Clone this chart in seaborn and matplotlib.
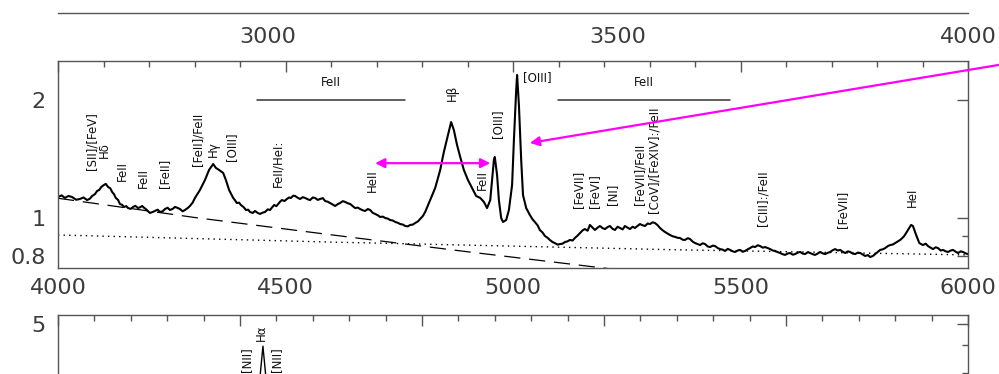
import matplotlib
matplotlib.use("Agg")
import matplotlib.pyplot as plt
import matplotlib.ticker as mticker
import seaborn as sns

# spectrum in the middle panel (wavelength in A, normalised flux)
wl = [4000, 4008, 4015, 4023, 4031, 4040, 4048, 4056, 4064, 4070,
      4075, 4081, 4086, 4091, 4095, 4101, 4105, 4110, 4115, 4119,
      4123, 4127, 4132, 4136, 4141, 4145, 4150, 4154, 4160, 4165,
      4170, 4176, 4181, 4185, 4189, 4193, 4198, 4202, 4208, 4213,
      4219, 4224, 4230, 4235, 4241, 4246, 4252, 4257, 4263, 4268,
      4274, 4279, 4285, 4290, 4296, 4301, 4312, 4323, 4332, 4341,
      4347, 4354, 4363, 4369, 4376, 4385, 4389, 4393, 4398, 4402,
      4408, 4413, 4418, 4422, 4428, 4433, 4439, 4444, 4450, 4455,
      4461, 4466, 4471, 4475, 4480, 4484, 4488, 4492, 4498, 4503,
      4508, 4512, 4517, 4521, 4527, 4532, 4538, 4543, 4549, 4554,
      4560, 4565, 4571, 4576, 4582, 4587, 4593, 4598, 4604, 4609,
      4615, 4620, 4626, 4631, 4637, 4642, 4648, 4653, 4659, 4664,
      4670, 4675, 4681, 4686, 4692, 4697, 4703, 4708, 4714, 4719,
      4725, 4730, 4736, 4741, 4747, 4752, 4758, 4763, 4769, 4774,
      4780, 4785, 4791, 4796, 4802, 4807, 4818, 4829, 4840, 4848,
      4857, 4864, 4870, 4877, 4884, 4892, 4901, 4910, 4919, 4928,
      4936, 4943, 4950, 4954, 4958, 4960, 4965, 4969, 4974, 4978,
      4985, 4991, 4998, 5002, 5007, 5009, 5013, 5018, 5022, 5029,
      5037, 5043, 5048, 5054, 5059, 5065, 5070, 5076, 5081, 5087,
      5092, 5098, 5103, 5109, 5114, 5120, 5125, 5131, 5136, 5142,
      5147, 5153, 5158, 5164, 5169, 5175, 5180, 5186, 5191, 5197,
      5202, 5208, 5213, 5219, 5224, 5230, 5235, 5241, 5246, 5252,
      5257, 5263, 5268, 5274, 5279, 5285, 5290, 5296, 5301, 5307,
      5312, 5318, 5323, 5329, 5334, 5340, 5345, 5351, 5356, 5362,
      5367, 5373, 5378, 5384, 5389, 5395, 5400, 5406, 5411, 5417,
      5422, 5428, 5433, 5439, 5444, 5450, 5455, 5461, 5466, 5472,
      5477, 5483, 5488, 5494, 5499, 5505, 5510, 5516, 5521, 5527,
      5532, 5538, 5543, 5549, 5554, 5560, 5565, 5571, 5576, 5582,
      5587, 5593, 5598, 5604, 5609, 5615, 5620, 5626, 5631, 5637,
      5642, 5648, 5653, 5659, 5664, 5670, 5675, 5681, 5686, 5692,
      5697, 5703, 5708, 5714, 5719, 5725, 5730, 5736, 5741, 5747,
      5752, 5758, 5763, 5769, 5774, 5780, 5785, 5791, 5796, 5802,
      5807, 5813, 5818, 5824, 5829, 5835, 5840, 5846, 5851, 5856,
      5860, 5868, 5875, 5879, 5886, 5893, 5897, 5901, 5907, 5912,
      5918, 5923, 5929, 5934, 5940, 5945, 5951, 5956, 5962, 5967,
      5973, 5978, 5984, 5989, 5995, 6000]
flux = [1.131, 1.142, 1.125, 1.138, 1.131, 1.113, 1.118, 1.128, 1.111, 1.120,
        1.138, 1.150, 1.172, 1.180, 1.200, 1.214, 1.222, 1.200, 1.190, 1.165,
        1.150, 1.125, 1.112, 1.086, 1.080, 1.067, 1.072, 1.060, 1.055, 1.067,
        1.074, 1.060, 1.066, 1.073, 1.062, 1.054, 1.040, 1.030, 1.036, 1.042,
        1.050, 1.036, 1.040, 1.054, 1.062, 1.048, 1.055, 1.067, 1.061, 1.054,
        1.040, 1.048, 1.060, 1.073, 1.095, 1.125, 1.179, 1.250, 1.326, 1.373,
        1.342, 1.326, 1.303, 1.250, 1.179, 1.125, 1.110, 1.092, 1.094, 1.079,
        1.066, 1.048, 1.050, 1.036, 1.030, 1.042, 1.030, 1.024, 1.032, 1.036,
        1.052, 1.048, 1.066, 1.079, 1.072, 1.086, 1.100, 1.111, 1.105, 1.118,
        1.128, 1.125, 1.140, 1.138, 1.126, 1.118, 1.130, 1.125, 1.116, 1.111,
        1.128, 1.125, 1.112, 1.118, 1.124, 1.105, 1.100, 1.092, 1.082, 1.073,
        1.085, 1.092, 1.104, 1.099, 1.090, 1.086, 1.072, 1.060, 1.063, 1.054,
        1.046, 1.042, 1.054, 1.048, 1.030, 1.024, 1.016, 1.006, 1.008, 1.000,
        0.996, 0.988, 0.985, 0.977, 0.972, 0.965, 0.962, 0.954, 0.952, 0.960,
        0.962, 0.971, 0.980, 0.994, 1.012, 1.036, 1.111, 1.193, 1.326, 1.473,
        1.628, 1.757, 1.677, 1.536, 1.431, 1.326, 1.250, 1.193, 1.138, 1.125,
        1.099, 1.060, 1.111, 1.250, 1.406, 1.431, 1.287, 1.111, 1.000, 0.977,
        0.988, 1.048, 1.214, 1.581, 2.120, 2.317, 1.942, 1.406, 1.144, 1.060,
        1.018, 0.992, 0.977, 0.958, 0.932, 0.918, 0.900, 0.890, 0.879, 0.868,
        0.863, 0.855, 0.858, 0.860, 0.868, 0.872, 0.879, 0.876, 0.889, 0.902,
        0.915, 0.930, 0.937, 0.928, 0.960, 0.945, 0.932, 0.945, 0.954, 0.942,
        0.937, 0.948, 0.954, 0.938, 0.932, 0.950, 0.943, 0.935, 0.954, 0.945,
        0.937, 0.950, 0.943, 0.955, 0.965, 0.958, 0.954, 0.968, 0.965, 0.975,
        0.971, 0.958, 0.943, 0.930, 0.921, 0.912, 0.905, 0.898, 0.895, 0.890,
        0.889, 0.880, 0.879, 0.888, 0.884, 0.870, 0.863, 0.858, 0.853, 0.862,
        0.858, 0.846, 0.843, 0.850, 0.848, 0.838, 0.833, 0.830, 0.824, 0.834,
        0.829, 0.822, 0.819, 0.826, 0.829, 0.820, 0.824, 0.832, 0.838, 0.846,
        0.843, 0.852, 0.848, 0.840, 0.843, 0.838, 0.833, 0.826, 0.824, 0.818,
        0.814, 0.808, 0.805, 0.812, 0.814, 0.806, 0.809, 0.816, 0.819, 0.811,
        0.809, 0.818, 0.814, 0.808, 0.805, 0.812, 0.819, 0.812, 0.809, 0.815,
        0.819, 0.828, 0.833, 0.826, 0.829, 0.820, 0.814, 0.822, 0.819, 0.811,
        0.809, 0.816, 0.814, 0.806, 0.800, 0.804, 0.795, 0.800, 0.809, 0.820,
        0.829, 0.832, 0.838, 0.848, 0.853, 0.856, 0.863, 0.872, 0.879, 0.890,
        0.900, 0.932, 0.960, 0.954, 0.905, 0.863, 0.858, 0.853, 0.860, 0.848,
        0.840, 0.833, 0.842, 0.838, 0.826, 0.829, 0.822, 0.819, 0.826, 0.829,
        0.820, 0.814, 0.822, 0.819, 0.812, 0.809]

# power-law continuum (dashed) and second component (dotted)
pl_wl = [4000, 4300, 4600, 4900, 5200, 5300]
pl_flux = [1.123, 1.003, 0.906, 0.820, 0.745, 0.723]
dot_wl = [4000, 4600, 5350, 6000]
dot_flux = [0.905, 0.868, 0.830, 0.805]

# bottom panel: only the top of H-alpha is visible
ha_wl = [6000, 6500, 6545, 6556, 6563, 6570, 6581, 6650, 8500]
ha_flux = [0.9, 1.0, 1.5, 3.0, 3.97, 3.0, 1.5, 1.0, 0.8]

# line ids: text, wavelength, flux at the bottom of the text
line_ids = [
    ("[SII]/[FeV]", 4075, 1.326), ("Hδ", 4101, 1.422), ("FeII", 4141, 1.243),
    ("FeII", 4187, 1.193), ("[FeII]", 4235, 1.193), ("[FeII]/FeII", 4308, 1.357),
    ("Hγ", 4341, 1.431), ("[OIII]", 4382, 1.398), ("FeII/HeI:", 4484, 1.200),
    ("HeII", 4690, 1.165), ("Hβ", 4866, 1.988), ("FeII", 4932, 1.179),
    ("[OIII]", 4965, 1.600), ("[FeVII]", 5143, 1.060), ("[FeVI]", 5180, 1.060),
    ("[NI]", 5218, 1.079), ("[FeVII]/FeII", 5279, 1.079),
    ("[CoV]/[FeXIV]:/FeII", 5310, 1.030), ("[CIII]:/FeII", 5550, 0.954),
    ("[FeVII]", 5725, 0.943), ("HeI", 5877, 1.067),
]
feii_bands = [(4437, 4763), (5099, 5477)]
ha_ids = [("[NII]", 6519, 3.03), ("Hα", 6558, 4.19), ("[NII]", 6599, 3.03)]

assert len(wl) == len(flux)

sns.set_style("white")
plt.rcParams["font.family"] = ["DejaVu Sans"]
id_font = ["Liberation Sans Narrow", "DejaVu Sans"]

W, H = 999, 374
fig = plt.figure(figsize=(W / 100, H / 100), dpi=100)

def frac(left, top, right, bottom):
    return [left / W, 1 - bottom / H, (right - left) / W, (bottom - top) / H]

ax_top = fig.add_axes(frac(58, -200, 968, 13))
ax = fig.add_axes(frac(58, 61, 968, 268))
ax_bot = fig.add_axes(frac(58, 315, 968, 512))

spine_col = "#555555"
lab_col = "#3c3c3c"
txt_col = "#111111"
id_size = 8.5
for a in (ax_top, ax, ax_bot):
    for s in a.spines.values():
        s.set_color(spine_col)
        s.set_linewidth(1.0)
    a.tick_params(which="both", direction="in", colors=spine_col, width=1,
                  labelcolor=lab_col, labelsize=16, top=True, right=True)
    a.tick_params(which="major", length=8)
    a.tick_params(which="minor", length=4)
    a.xaxis.set_minor_locator(mticker.MultipleLocator(100))
    a.xaxis.set_major_locator(mticker.MultipleLocator(500))
    a.xaxis.set_major_formatter(mticker.FormatStrFormatter("%d"))

# top panel: only its lower axis is in view
ax_top.set_xlim(2700, 4000)
ax_top.set_ylim(0, 1)
ax_top.set_yticks([])
ax_top.tick_params(which="both", length=4, pad=10)
ax_top.tick_params(axis="y", left=False, right=False)
for s in ("top", "left", "right"):
    ax_top.spines[s].set_visible(False)

# middle panel
sns.lineplot(x=wl, y=flux, ax=ax, color="black", lw=1.5,
             estimator=None, sort=False)
sns.lineplot(x=pl_wl, y=pl_flux, ax=ax, color="black", lw=0.9,
             estimator=None, sort=False, linestyle=(0, (13, 7)))
sns.lineplot(x=dot_wl, y=dot_flux, ax=ax, color="black", lw=1.0,
             estimator=None, sort=False, linestyle=(0, (1, 3)))
ax.set_xlim(4000, 6000)
ax.set_yscale("log")
ax.set_ylim(0.7454, 2.515)
ax.yaxis.set_major_locator(mticker.FixedLocator([0.8, 1, 2]))
ax.yaxis.set_minor_locator(mticker.FixedLocator([0.9]))
ax.yaxis.set_major_formatter(mticker.FixedFormatter(["0.8", "1", "2"]))
ax.yaxis.set_minor_formatter(mticker.NullFormatter())
ax.tick_params(axis="x", which="both", pad=7)
ax.tick_params(axis="y", which="both", pad=9)
ax.set_xlabel("")
ax.set_ylabel("")

for text, x, y in line_ids:
    ax.text(x, y, text, rotation=90, ha="center", va="bottom",
            fontsize=id_size, color=txt_col, family=id_font)
ax.text(5053, 2.277, "[OIII]", ha="center", va="center", fontsize=id_size,
        color=txt_col, family=id_font)
for x0, x1 in feii_bands:
    ax.plot([x0, x1], [2.0, 2.0], color="#333333", lw=1.1)
    ax.text((x0 + x1) / 2, 2.22, "FeII", ha="center", va="center",
            fontsize=id_size, color=txt_col, family=id_font)

mag = "#ff00ff"
ax.annotate("", xy=(4697, 1.38), xytext=(4950, 1.38),
            arrowprops=dict(arrowstyle="<|-|>", color=mag, lw=1.6,
                            mutation_scale=14, shrinkA=0, shrinkB=0))
ax.annotate("", xy=(5037, 1.554), xytext=(6068, 2.458),
            annotation_clip=False,
            arrowprops=dict(arrowstyle="-|>", color=mag, lw=1.6,
                            mutation_scale=14, shrinkA=0, shrinkB=0))

# bottom panel, cut by the figure edge
sns.lineplot(x=ha_wl, y=ha_flux, ax=ax_bot, color="black", lw=1.0,
             estimator=None, sort=False)
ax_bot.set_xlim(6000, 8500)
ax_bot.set_yscale("log")
ax_bot.set_ylim(0.7, 5.5)
ax_bot.yaxis.set_major_locator(mticker.FixedLocator([5]))
ax_bot.yaxis.set_minor_locator(mticker.FixedLocator([3, 4]))
ax_bot.yaxis.set_major_formatter(mticker.FixedFormatter(["5"]))
ax_bot.yaxis.set_minor_formatter(mticker.NullFormatter())
ax_bot.tick_params(axis="x", labelbottom=False)
ax_bot.tick_params(axis="y", which="both", pad=9)
ax_bot.set_xlabel("")
ax_bot.set_ylabel("")
for text, x, y in ha_ids:
    ax_bot.text(x, y, text, rotation=90, ha="center", va="bottom",
                fontsize=id_size, color=txt_col, family=id_font)

fig.savefig("out.png", dpi=100)
